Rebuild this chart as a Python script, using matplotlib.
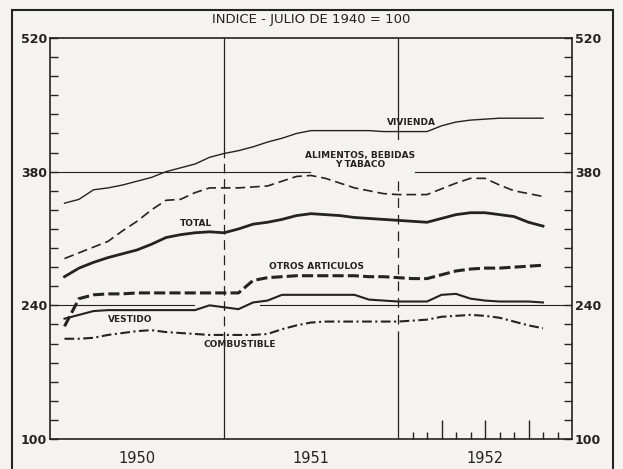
import numpy as np
import matplotlib
matplotlib.use("Agg")
import matplotlib.pyplot as plt
from matplotlib.patches import Rectangle
from matplotlib import transforms

plt.rcParams['lines.scale_dashes'] = False

# months since Jan 1950 (0 = start of 1950, 36 = end of 1952)
months = np.arange(1, 35)

vivienda = [347, 351, 361, 363, 366, 370, 374, 380, 384, 388, 395, 399,
            402, 406, 411, 415, 420, 423, 423, 423, 423, 423, 422, 422,
            422, 422, 428, 432, 434, 435, 436, 436, 436, 436]
alimentos = [289, 295, 301, 307, 318, 328, 340, 350, 351, 358, 363, 363,
             363, 364, 365, 370, 375, 376, 373, 368, 363, 360, 357, 356,
             356, 356, 362, 368, 373, 373, 366, 360, 357, 354]
total = [270, 279, 285, 290, 294, 298, 304, 311, 314, 316, 317, 316,
         320, 325, 327, 330, 334, 336, 335, 334, 332, 331, 330, 329,
         328, 327, 331, 335, 337, 337, 335, 333, 327, 323]
otros = [218, 247, 251, 252, 252, 253, 253, 253, 253, 253, 253, 253,
         253, 266, 269, 270, 271, 271, 271, 271, 271, 270, 270, 269,
         268, 268, 272, 276, 278, 279, 279, 280, 281, 282]
vestido = [226, 230, 234, 235, 235, 235, 235, 235, 235, 235, 240, 238,
           236, 243, 245, 251, 251, 251, 251, 251, 251, 246, 245, 244,
           244, 244, 251, 252, 247, 245, 244, 244, 244, 243]
combustible = [205, 205, 206, 209, 211, 213, 214, 212, 211, 210, 209, 209,
               209, 209, 210, 215, 219, 222, 223, 223, 223, 223, 223, 223,
               224, 225, 228, 229, 230, 229, 227, 223, 219, 216]

years = ['1950', '1951', '1952']
y_labels = [100, 240, 380, 520]

ink = '#232323'
paper = '#f4f3ef'

fig = plt.figure(figsize=(6.23, 4.69), dpi=100, facecolor=paper)
ax = fig.add_axes([50 / 623, 1 - 439 / 469, 522 / 623, 401 / 469])
ax.set_facecolor(paper)
ax.set_xlim(0, 36)
ax.set_ylim(100, 520)

for s in ax.spines.values():
    s.set_linewidth(1.2)
    s.set_color(ink)

# y ticks every 20, labels only on the main values
yt = np.arange(100, 521, 20)
ax.set_yticks(yt)
ax.set_yticklabels([str(v) if v in y_labels else '' for v in yt])
ax.tick_params(axis='y', direction='in', length=6, width=1.0, color=ink,
               left=True, right=True, labelleft=True, labelright=True,
               pad=2, labelsize=9, labelcolor=ink)
for lab in ax.get_yticklabels():
    lab.set_family(['Liberation Sans Narrow', 'DejaVu Sans'])
    lab.set_fontweight('bold')

# month ticks only in 1952
ax.set_xticks([27, 30, 33])
ax.set_xticks([25, 26, 28, 29, 31, 32, 34, 35], minor=True)
ax.tick_params(axis='x', which='major', direction='in', length=14, width=1.0,
               color=ink, labelbottom=False)
ax.tick_params(axis='x', which='minor', direction='in', length=5, width=1.0,
               color=ink)

# reference lines
ax.plot([0, 17.9], [380, 380], color=ink, lw=0.8, zorder=1)
ax.plot([25.2, 36], [380, 380], color=ink, lw=0.8, zorder=1)
ax.plot([0, 9.9], [240, 240], color=ink, lw=0.8, zorder=1)
ax.plot([14.5, 36], [240, 240], color=ink, lw=0.8, zorder=1)

ax.plot([12, 12], [520, 405], color=ink, lw=0.9, zorder=1)
ax.plot([12, 12], [405, 205], color=ink, lw=0.9, ls=(0, (7, 4)), zorder=1)
ax.plot([12, 12], [205, 100], color=ink, lw=0.9, zorder=1)
ax.plot([24, 24], [520, 414], color=ink, lw=0.9, zorder=1)
ax.plot([24, 24], [370, 212], color=ink, lw=0.9, ls=(0, (7, 5)), zorder=1)
ax.plot([24, 24], [212, 100], color=ink, lw=0.9, zorder=1)

# series
ax.plot(months, vivienda, color=ink, lw=1.0, zorder=3)
ax.plot(months, alimentos, color=ink, lw=1.2, ls=(0, (7, 3.5)), zorder=3)
ax.plot(months, total, color=ink, lw=2.0, zorder=3)
ax.plot(months, otros, color=ink, lw=2.2, ls=(0, (8, 3)), zorder=3)
ax.plot(months, vestido, color=ink, lw=1.5, zorder=3)
ax.plot(months, combustible, color=ink, lw=1.5, ls=(0, (7, 2.5, 1.5, 2.5)), zorder=3)

lbl = dict(fontsize=6.5, fontweight='bold', color=ink, ha='center', va='center')
ax.text(24.9, 432, 'VIVIENDA', **lbl)
ax.text(21.4, 392, 'ALIMENTOS, BEBIDAS\nY TABACO', linespacing=1.0, **lbl)
ax.text(10.1, 326, 'TOTAL', **lbl)
ax.text(18.4, 281, 'OTROS ARTICULOS', **lbl)
ax.text(5.5, 225, 'VESTIDO', **lbl)
ax.text(13.1, 199, 'COMBUSTIBLE', **lbl)

# years under the axis
trans = transforms.blended_transform_factory(ax.transData, fig.transFigure)
for i, y in enumerate(years):
    ax.text(6 + 12 * i, 1 - 458 / 469, y, transform=trans, ha='center',
            va='center', fontsize=10.5, color=ink)

fig.text(311 / 623, 1 - 20 / 469, 'INDICE - JULIO DE 1940 = 100',
         ha='center', va='center', fontsize=9.5, color=ink)

# outer frame of the printed figure
fig.add_artist(Rectangle((12 / 623, -0.1), 601 / 623, 1.1 - 10 / 469,
                         transform=fig.transFigure, fill=False,
                         edgecolor=ink, lw=1.5))

fig.savefig('out.png', dpi=100, facecolor=paper)
